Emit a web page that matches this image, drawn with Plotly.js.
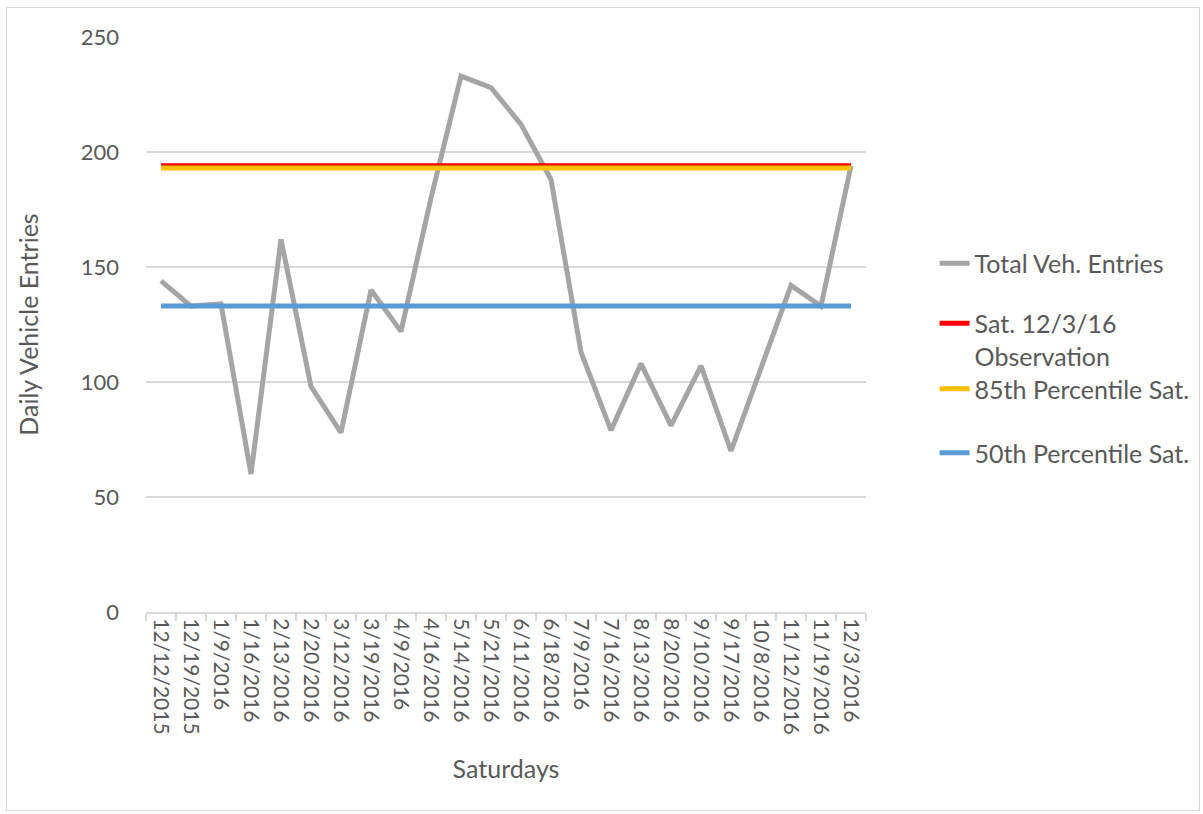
<!DOCTYPE html>
<html>
<head>
<meta charset="utf-8">
<script src="https://cdn.plot.ly/plotly-3.0.1.min.js"></script>
<style>
  html, body { margin: 0; padding: 0; background: #ffffff; }
  #wrap { position: relative; width: 1203px; height: 814px; }
  #chart { position: absolute; left: 0; top: 0; width: 1203px; height: 814px; }
  #frame { position: absolute; left: 6px; top: 7px; width: 1192px; height: 802px;
           border: 1px solid #d9d9d9; pointer-events: none; }
</style>
</head>
<body>
<div id="wrap">
  <div id="chart"></div>
  <div id="frame"></div>
</div>
<script>
// ---- data ----
const saturdays = [
  "12/12/2015", "12/19/2015", "1/9/2016", "1/16/2016", "2/13/2016", "2/20/2016",
  "3/12/2016", "3/19/2016", "4/9/2016", "4/16/2016", "5/14/2016", "5/21/2016",
  "6/11/2016", "6/18/2016", "7/9/2016", "7/16/2016", "8/13/2016", "8/20/2016",
  "9/10/2016", "9/17/2016", "10/8/2016", "11/12/2016", "11/19/2016", "12/3/2016"
];
const totalVehEntries = [
  144, 133, 134, 60, 162, 98, 78, 140, 122, 180, 233, 228,
  212, 188, 113, 79, 108, 81, 107, 70, 106, 142, 133, 194
];
const observationSat = 194;      // Sat. 12/3/16 Observation
const pct85Sat = 193;            // 85th Percentile Sat.
const pct50Sat = 133;            // 50th Percentile Sat.

const seriesNames = [
  "Total Veh. Entries",
  "Sat. 12/3/16<br>Observation",
  "85th Percentile Sat.",
  "50th Percentile Sat."
];

// ---- chart ----
const W = 1203, H = 814;
const FONT = "Lato, 'Open Sans', sans-serif";
const TXT = "#595959";
const flat = v => saturdays.map(() => v);

const traces = [
  { x: saturdays, y: totalVehEntries, name: seriesNames[0], mode: "lines",
    line: { color: "#A5A5A5", width: 5 }, legend: "legend" },
  { x: saturdays, y: flat(observationSat), name: seriesNames[1], mode: "lines",
    line: { color: "#FF0000", width: 5 }, legend: "legend2" },
  { x: saturdays, y: flat(pct85Sat), name: seriesNames[2], mode: "lines",
    line: { color: "#FFC000", width: 5 }, legend: "legend3" },
  { x: saturdays, y: flat(pct50Sat), name: seriesNames[3], mode: "lines",
    line: { color: "#5B9BD5", width: 5 }, legend: "legend4" }
];

const legendBase = { xref: "container", yref: "container", x: 934.6 / W, xanchor: "left", yanchor: "middle",
  font: { family: FONT, size: 25, color: TXT }, bgcolor: "rgba(0,0,0,0)", valign: "top" };
const legY = px => (H - px) / H;

const layout = {
  width: W, height: H,
  margin: { l: 146, r: 337, t: 37, b: 202 },
  paper_bgcolor: "#ffffff", plot_bgcolor: "#ffffff",
  font: { family: FONT, size: 21, color: TXT },
  showlegend: true,
  legend:  Object.assign({}, legendBase, { y: legY(263.5) }),
  legend2: Object.assign({}, legendBase, { y: legY(339.5) }),
  legend3: Object.assign({}, legendBase, { y: legY(389) }),
  legend4: Object.assign({}, legendBase, { y: legY(453) }),
  xaxis: {
    type: "category",
    range: [-0.5, saturdays.length - 0.5],
    tickangle: 90,
    tickson: "boundaries",
    ticks: "outside", ticklen: 7, tickcolor: "#d9d9d9", tickwidth: 2,
    showline: true, linecolor: "#d9d9d9", linewidth: 2,
    showgrid: false, zeroline: false,
    tickfont: { family: FONT, size: 21, color: TXT },
    title: { text: "Saturdays", font: { family: FONT, size: 25, color: TXT }, standoff: 27 },
    automargin: false,
    fixedrange: true
  },
  yaxis: {
    range: [0, 250], dtick: 50, tick0: 0,
    showgrid: true, gridcolor: "#d9d9d9", gridwidth: 2,
    zeroline: false, showline: false, ticks: "",
    ticklabelstandoff: 26,
    tickfont: { family: FONT, size: 22, color: TXT },
    title: { text: "Daily Vehicle Entries", font: { family: FONT, size: 25, color: TXT }, standoff: 34 },
    automargin: false,
    fixedrange: true
  }
};

Plotly.newPlot("chart", traces, layout, { displayModeBar: false, staticPlot: true });
</script>
</body>
</html>
